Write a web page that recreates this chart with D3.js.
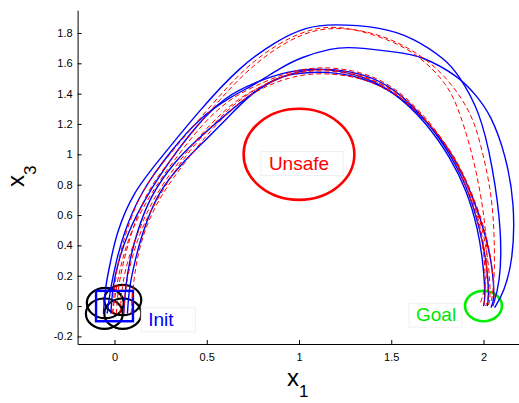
<!DOCTYPE html>
<html>
<head>
<meta charset="utf-8">
<script src="https://cdn.jsdelivr.net/npm/d3@7"></script>
<style>
body{margin:0;background:#fff}
text{font-family:"Liberation Sans",Arial,Helvetica,sans-serif}
</style>
</head>
<body>
<svg width="519" height="403"></svg>
<script>
// solid blue runs
const blue1=[[-0.06,-0.05],[-0.05,0.13],[-0.02,0.30],[0.01,0.48],[0.10,0.75],[0.24,0.96],[0.46,1.29],[0.68,1.58],[0.88,1.75],[1.04,1.84],[1.18,1.86],[1.44,1.84],[1.62,1.77],[1.80,1.62],[1.86,1.53],[1.98,1.29],[2.05,0.92],[2.10,0.48],[2.09,0.15],[2.05,0.00]]
const blue2=[[-0.04,-0.05],[-0.02,0.13],[0.01,0.30],[0.05,0.48],[0.14,0.75],[0.31,1.03],[0.46,1.24],[0.63,1.38],[0.76,1.46],[0.90,1.57],[1.01,1.64],[1.18,1.70],[1.28,1.71],[1.55,1.67],[1.66,1.65],[1.86,1.52],[1.96,1.39],[2.04,1.26],[2.12,1.00],[2.17,0.67],[2.16,0.30],[2.11,0.09],[2.06,-0.01]]
const blue3=[[0.05,-0.05],[0.06,0.13],[0.08,0.29],[0.12,0.48],[0.19,0.72],[0.33,0.96],[0.45,1.10],[0.61,1.27],[0.77,1.43],[0.95,1.54],[1.13,1.57],[1.33,1.54],[1.52,1.44],[1.71,1.20],[1.83,0.98],[1.92,0.76],[1.98,0.51],[2.02,0.27],[2.03,0.05],[2.02,0.00]]
const blue4=[[0.07,-0.05],[0.08,0.13],[0.11,0.29],[0.14,0.44],[0.23,0.75],[0.38,0.96],[0.49,1.09],[0.62,1.25],[0.74,1.40],[0.87,1.50],[0.96,1.53],[1.14,1.55],[1.34,1.51],[1.54,1.40],[1.74,1.16],[1.86,0.94],[1.94,0.73],[2.01,0.48],[2.05,0.25],[2.06,0.04],[2.04,-0.01]]
const blue5=[[-0.02,-0.05],[-0.01,0.13],[0.02,0.29],[0.07,0.48],[0.17,0.72],[0.30,0.96],[0.45,1.20],[0.60,1.38],[0.75,1.47],[0.94,1.55],[1.11,1.57],[1.32,1.53],[1.51,1.42],[1.69,1.21],[1.82,0.98],[1.91,0.76],[1.97,0.51],[2.00,0.27],[2.01,0.05],[2.00,0.00]]

// dashed red runs
const red1=[[-0.01,-0.05],[0.00,0.13],[0.02,0.30],[0.06,0.48],[0.14,0.75],[0.27,0.96],[0.50,1.29],[0.71,1.58],[0.90,1.74],[1.06,1.83],[1.24,1.85],[1.51,1.75],[1.66,1.64],[1.80,1.47],[1.87,1.29],[1.96,0.92],[2.02,0.48],[2.02,0.15],[1.98,0.01]]
const red2=[[0.01,-0.05],[0.02,0.13],[0.05,0.30],[0.09,0.48],[0.17,0.75],[0.30,0.96],[0.51,1.28],[0.72,1.56],[0.91,1.73],[1.07,1.82],[1.24,1.84],[1.49,1.78],[1.76,1.58],[1.93,1.29],[1.98,1.09],[2.04,0.78],[2.06,0.48],[2.06,0.15],[2.04,0.02]]
const red3=[[-0.01,-0.05],[0.01,0.13],[0.04,0.30],[0.09,0.50],[0.19,0.73],[0.31,0.94],[0.48,1.21],[0.63,1.37],[0.76,1.45],[0.95,1.55],[1.13,1.58],[1.33,1.55],[1.52,1.45],[1.71,1.22],[1.83,1.00],[1.91,0.78],[1.98,0.53],[2.01,0.29],[2.01,0.05],[2.00,0.00]]
const red4=[[0.03,-0.05],[0.04,0.13],[0.07,0.30],[0.13,0.50],[0.22,0.73],[0.34,0.94],[0.50,1.18],[0.66,1.36],[0.78,1.44],[0.96,1.54],[1.14,1.56],[1.34,1.52],[1.54,1.42],[1.73,1.18],[1.86,0.96],[1.93,0.75],[2.00,0.50],[2.03,0.26],[2.04,0.04],[2.02,-0.01]]
const red5=[[0.09,-0.05],[0.10,0.13],[0.12,0.30],[0.16,0.50],[0.25,0.73],[0.37,0.93],[0.52,1.16],[0.68,1.35],[0.80,1.44],[0.97,1.52],[1.15,1.54],[1.36,1.50],[1.55,1.39],[1.75,1.15],[1.87,0.93],[1.95,0.71],[2.02,0.46],[2.05,0.24],[2.06,0.04],[2.05,-0.01]]
const red6=[[0.05,-0.05],[0.06,0.13],[0.09,0.30],[0.14,0.50],[0.23,0.70],[0.33,0.90],[0.45,1.09],[0.60,1.28],[0.73,1.41],[0.92,1.53],[1.11,1.57],[1.32,1.54],[1.51,1.43],[1.72,1.19],[1.85,0.97],[1.93,0.75],[1.99,0.50],[2.02,0.26],[2.03,0.04],[2.01,0.00]]

// regions
const unsafeSet={cx:1,cy:1,r:0.3}
const goalSet={cx:2,cy:0,r:0.1}
const initBox=[-0.1,0.1,-0.1,0.1]
const initBalls=[[-0.05,0.02],[0.045,0.04],[-0.055,-0.05],[0.045,-0.05]]
const ballR=0.1

const xTicks=[0,0.5,1,1.5,2]
const yTicks=[-0.2,0,0.2,0.4,0.6,0.8,1,1.2,1.4,1.6,1.8]

const notes=[
  {t:"Unsafe",x:1.0,y:0.90,c:"#ff0000",anchor:"middle",padL:8,padR:14},
  {t:"Goal",x:1.634,y:-0.10,c:"#00e600",anchor:"start",padL:7,padR:6},
  {t:"Init",x:0.183,y:-0.13,c:"#0000ff",anchor:"start",padL:7,padR:21}
]

const svg=d3.select("svg")
const x=d3.scaleLinear().domain([-0.2,2.2]).range([77.6,520.4])
const y=d3.scaleLinear().domain([-0.25,1.95]).range([344,10.2])

let xa=svg.append("g").attr("transform",`translate(0,${y(-0.25)})`)
  .call(d3.axisBottom(x).tickValues(xTicks).tickFormat(d=>String(d)).tickSizeInner(-4).tickSizeOuter(0).tickPadding(9))
let ya=svg.append("g").attr("transform",`translate(${x(-0.2)},0)`)
  .call(d3.axisLeft(y).tickValues(yTicks).tickFormat(d=>String(d)).tickSizeInner(-4).tickSizeOuter(0).tickPadding(5))
svg.selectAll(".tick text").style("font-size","11px").attr("fill","#000")
svg.selectAll(".domain, .tick line").attr("stroke","#000")

function ellipse(cx,cy,r,color,w){
  svg.append("ellipse")
    .attr("cx",x(cx)).attr("cy",y(cy))
    .attr("rx",x(cx+r)-x(cx)).attr("ry",y(cy)-y(cy+r))
    .attr("fill","none").attr("stroke",color).attr("stroke-width",w)
}

initBalls.forEach(b=>ellipse(b[0],b[1],ballR,"#000",2.2))

svg.append("rect")
  .attr("x",x(initBox[0])).attr("y",y(initBox[3]))
  .attr("width",x(initBox[1])-x(initBox[0])).attr("height",y(initBox[2])-y(initBox[3]))
  .attr("fill","none").attr("stroke","#0000ff").attr("stroke-width",2.4)

ellipse(unsafeSet.cx,unsafeSet.cy,unsafeSet.r,"#ff0000",2.6)
ellipse(goalSet.cx,goalSet.cy,goalSet.r,"#00ee00",2.6)

const line=d3.line().x(d=>x(d[0])).y(d=>y(d[1])).curve(d3.curveBasis)

;[blue1,blue2,blue3,blue4,blue5].forEach(r=>{
  svg.append("path").attr("d",line(r))
    .attr("fill","none").attr("stroke","#0000ff").attr("stroke-width",1.4)
})
;[red1,red2,red3,red4,red5,red6].forEach(r=>{
  svg.append("path").attr("d",line(r))
    .attr("fill","none").attr("stroke","#ff0000").attr("stroke-width",1)
    .attr("stroke-dasharray","5,3")
})

notes.forEach(n=>{
  let g=svg.append("g")
  let bg=g.append("rect")
  let tx=g.append("text").attr("x",x(n.x)).attr("y",y(n.y))
    .attr("text-anchor",n.anchor).attr("fill",n.c)
    .style("font-size","19px").text(n.t)
  let bb=tx.node().getBBox()
  bg.attr("x",bb.x-n.padL).attr("y",bb.y-1)
    .attr("width",bb.width+n.padL+n.padR).attr("height",bb.height+3)
    .attr("fill","#fff").attr("stroke","#f0f0f0")
})

// axis titles
svg.append("text").attr("x",287).attr("y",386).style("font-size","24px")
  .text("x").append("tspan").attr("dy",11).style("font-size","17px").text("1")
svg.append("text").attr("transform","translate(24,187) rotate(-90)").style("font-size","24px")
  .text("x").append("tspan").attr("dy",12).style("font-size","17px").text("3")
</script>
</body>
</html>
